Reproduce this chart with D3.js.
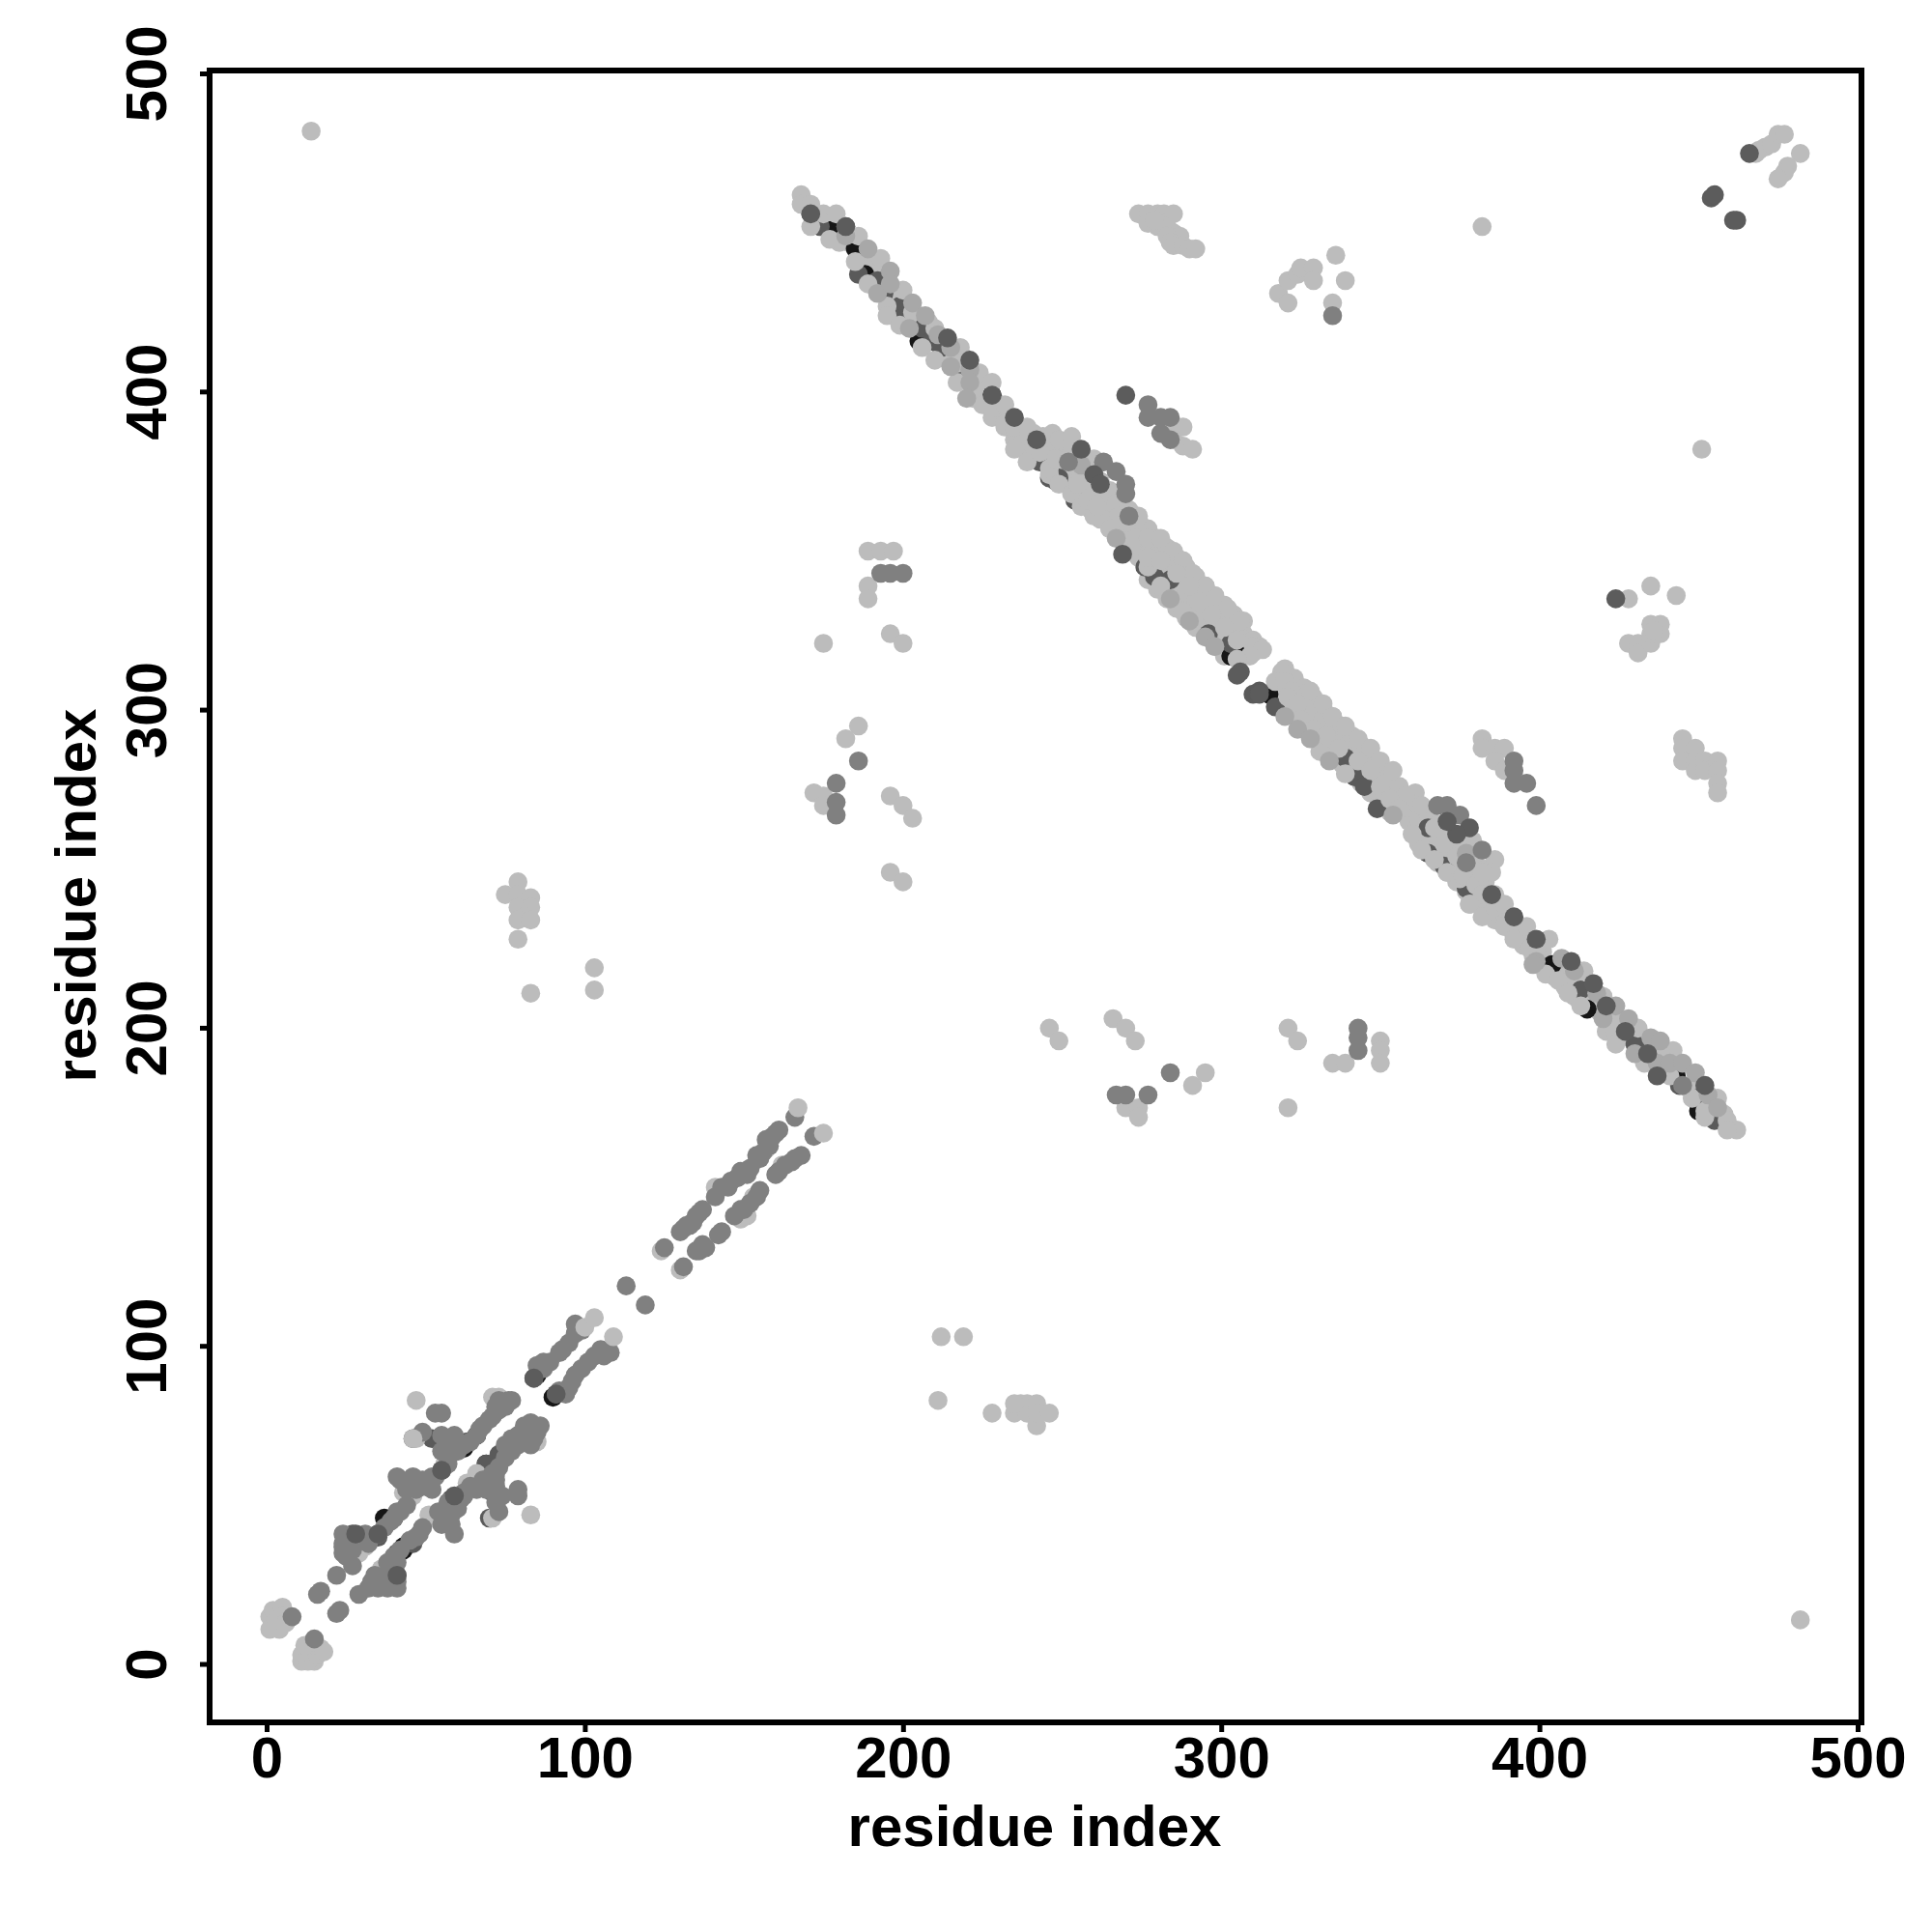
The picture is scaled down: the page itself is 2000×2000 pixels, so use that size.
<!DOCTYPE html>
<html><head><meta charset="utf-8">
<script src="https://cdnjs.cloudflare.com/ajax/libs/d3/7.8.5/d3.min.js"></script>
<style>html,body{margin:0;padding:0;background:#fff}svg{display:block}
text{font-family:"Liberation Sans",Arial,sans-serif;font-weight:700;fill:#000}</style>
</head><body><svg id="c" width="2000" height="2000"></svg>
<script>
const tickValues=[0,100,200,300,400,500];
const axisTitle="residue index";
const blackPts=[[178,452],[185,445],[188,437],[205,416],[228,399],[303,317],[307,317],[315,305],[415,206],[404,220],[443,185],[450,178],[450,174],[38,45],[43,37],[40,46],[37,46],[43,36],[66,72],[62,68],[69,63],[72,62],[85,91],[90,84]];
const darkUnderPts=[[171,456],[174,452],[182,452],[186,437],[192,435],[194,431],[199,427],[199,423],[206,420],[209,416],[212,414],[219,405],[246,373],[248,372],[249,373],[254,366],[243,378],[276,345],[279,342],[284,341],[296,324],[303,321],[310,305],[312,306],[342,279],[345,276],[339,285],[349,269],[365,263],[365,255],[370,251],[377,244],[413,212],[423,199],[430,195],[437,188],[444,182],[455,171],[317,301],[27,41],[35,40],[41,28],[41,35],[46,38],[52,71],[46,71],[55,61],[58,52],[61,69],[63,70],[69,63],[71,54],[73,66],[73,81],[84,90],[91,85],[70,46]];
const lightFillPts=[[244,378],[244,382],[244,386],[247,375],[247,379],[247,383],[247,387],[250,372],[250,376],[250,380],[250,384],[253,369],[253,373],[253,377],[253,381],[256,366],[256,370],[256,374],[256,378],[259,363],[259,367],[259,371],[259,375],[262,360],[262,364],[262,368],[262,372],[265,357],[265,361],[265,365],[265,369],[268,354],[268,358],[268,362],[268,366],[271,351],[271,355],[271,359],[271,363],[274,348],[274,352],[274,356],[274,360],[277,345],[277,349],[277,353],[277,357],[277,341],[280,342],[280,346],[280,350],[280,354],[280,338],[283,339],[283,343],[283,347],[283,351],[283,335],[286,336],[286,340],[286,344],[286,348],[286,332],[289,333],[289,337],[289,341],[289,345],[289,329],[292,330],[292,334],[292,338],[292,342],[292,326],[295,327],[295,331],[295,335],[295,339],[295,323],[298,324],[298,328],[298,332],[298,336],[298,320],[301,321],[301,325],[301,329],[301,333],[301,317],[304,318],[304,322],[304,326],[304,330],[307,320],[307,324],[307,328],[310,318],[310,322],[320,301],[320,305],[320,309],[320,313],[323,298],[323,302],[323,306],[323,310],[326,295],[326,299],[326,303],[326,307],[329,292],[329,296],[329,300],[329,304],[332,289],[332,293],[332,297],[332,301],[335,286],[335,290],[335,294],[335,298],[338,283],[338,287],[338,291],[338,295],[341,280],[341,284],[341,288],[341,292],[344,277],[344,281],[344,285],[344,289],[347,274],[347,278],[347,282],[347,286],[350,271],[350,275],[350,279],[350,283],[353,268],[353,272],[353,276],[353,280],[356,268],[356,272],[356,276],[359,265],[359,269],[359,273],[362,258],[362,262],[362,266],[362,270],[365,255],[365,259],[365,263],[365,267],[368,252],[368,256],[368,260],[368,264],[371,249],[371,253],[371,257],[371,261],[374,246],[374,250],[374,254],[374,258],[377,243],[377,247],[377,251],[377,255],[380,240],[380,244],[380,248],[380,252],[383,238],[383,242],[383,246],[383,250],[386,234],[386,238],[386,242],[389,232],[389,236],[392,229],[392,233],[395,226],[395,230],[398,223],[398,227],[226,396],[226,400],[229,393],[229,397],[232,389],[232,393],[235,385],[235,388],[238,382],[238,386],[241,379],[241,383],[241,387],[401,224],[401,220],[405,216],[405,220],[408,213],[408,217],[411,214],[411,210],[416,207],[416,211],[419,205],[422,202],[426,197],[429,199],[432,196],[435,191],[440,188],[447,181],[450,181],[454,177],[458,173],[173,455],[176,452],[180,447],[183,447],[187,443],[190,440],[187,438],[191,437],[194,436],[197,431],[198,425],[201,424],[201,428],[205,424],[207,418],[208,422],[212,416],[213,412],[216,411],[219,411],[220,408],[223,403],[224,400],[222,398]];
const lightPts=[[168,462],[168,459],[171,459],[171,452],[175,456],[179,456],[177,448],[186,449],[185,441],[193,442],[189,434],[200,432],[195,427],[195,424],[203,425],[199,421],[210,420],[206,414],[210,410],[218,414],[217,409],[217,403],[224,406],[228,403],[225,396],[228,392],[228,395],[232,396],[232,390],[235,382],[235,389],[239,389],[239,378],[243,381],[249,385],[253,386],[246,374],[260,379],[246,376],[248,379],[249,371],[253,368],[256,364],[260,361],[263,360],[255,371],[258,366],[261,364],[265,368],[267,365],[268,361],[265,357],[270,353],[273,354],[277,354],[281,354],[285,350],[288,347],[291,343],[295,339],[298,335],[302,332],[306,328],[312,320],[310,320],[313,319],[309,317],[305,316],[277,345],[281,339],[288,331],[277,348],[281,347],[286,343],[290,339],[293,334],[297,330],[301,326],[305,322],[274,361],[319,312],[317,309],[320,309],[322,306],[326,304],[329,302],[321,304],[324,302],[328,306],[332,302],[335,298],[339,295],[343,291],[347,288],[350,284],[354,281],[361,274],[358,273],[363,270],[331,287],[339,280],[325,297],[329,294],[333,292],[337,288],[343,284],[347,281],[350,276],[353,272],[356,269],[360,261],[363,256],[367,253],[371,249],[375,247],[378,239],[382,235],[386,238],[389,239],[389,232],[392,228],[396,232],[397,225],[379,259],[386,253],[385,249],[367,263],[370,263],[370,258],[374,254],[376,248],[380,245],[382,242],[382,249],[399,224],[403,228],[402,217],[406,215],[409,211],[414,218],[413,207],[420,210],[424,204],[421,199],[424,199],[424,195],[431,200],[433,189],[442,193],[438,193],[441,185],[448,178],[456,178],[452,172],[459,171],[462,168],[459,168],[452,174],[378,239],[14,482],[482,14],[451,382],[382,452],[468,475],[469,476],[471,477],[473,478],[475,481],[477,481],[482,475],[478,471],[477,469],[475,467],[274,456],[277,456],[280,456],[282,456],[285,456],[277,453],[280,452],[283,452],[279,454],[285,450],[287,449],[283,449],[284,447],[285,446],[288,446],[290,445],[292,445],[318,431],[321,435],[321,428],[324,437],[325,439],[329,439],[329,435],[336,443],[339,435],[335,428],[286,389],[288,389],[285,385],[288,383],[291,382],[189,350],[193,350],[197,350],[189,339],[189,335],[196,324],[200,321],[175,321],[186,295],[182,291],[172,274],[175,273],[175,270],[196,273],[200,270],[203,266],[196,249],[200,246],[75,242],[79,246],[79,242],[83,241],[79,238],[83,238],[81,235],[79,234],[83,234],[79,228],[83,211],[103,219],[103,212],[246,200],[249,196],[266,203],[270,200],[273,196],[270,175],[274,175],[274,172],[291,182],[295,186],[321,200],[324,196],[321,175],[335,189],[339,189],[350,196],[350,193],[350,189],[212,103],[219,103],[211,83],[228,79],[235,79],[237,82],[239,79],[239,82],[235,82],[242,82],[242,75],[242,79],[246,79],[428,335],[435,339],[443,336],[428,321],[431,321],[431,318],[435,321],[435,324],[435,327],[438,327],[438,324],[436,325],[382,291],[382,288],[386,288],[389,288],[386,284],[389,281],[445,291],[445,288],[445,284],[449,288],[449,284],[449,281],[452,284],[452,281],[456,284],[456,281],[456,277],[456,274],[1,15],[1,11],[2,17],[5,18],[5,15],[4,11],[3,14],[6,13],[11,1],[11,3],[17,5],[15,1],[13,1],[13,4],[16,3],[15,6],[18,4],[12,6],[29,35],[31,37],[27,34],[27,33],[43,54],[46,53],[56,63],[47,71],[47,83],[53,46],[51,47],[63,57],[66,60],[71,46],[83,47],[71,84],[73,84],[85,70],[124,130],[130,124],[141,150],[148,153],[151,141],[149,140],[153,147],[157,162],[162,157],[36,30]];
const palePts=[[182,449],[189,445],[196,438],[192,431],[196,434],[203,428],[202,420],[207,424],[211,418],[215,414],[215,408],[221,407],[221,403],[220,398],[256,377],[267,354],[284,335],[290,328],[295,323],[298,320],[320,298],[324,294],[328,291],[334,284],[354,267],[377,255],[399,221],[398,220],[407,222],[411,218],[418,211],[424,207],[428,203],[420,203],[435,197],[438,196],[430,192],[437,189],[441,189],[445,189],[449,186],[453,179],[456,175]];
const midPts=[[8,15],[15,8],[17,23],[16,22],[22,28],[24,41],[24,38],[24,35],[27,31],[31,41],[41,48],[40,46],[41,59],[47,58],[49,56],[46,56],[52,59],[55,67],[59,72],[55,72],[49,73],[53,79],[55,79],[67,74],[70,77],[76,83],[73,83],[23,17],[22,16],[29,22],[33,26],[35,24],[38,24],[41,24],[41,32],[48,41],[59,41],[55,48],[58,47],[61,52],[66,55],[72,60],[72,58],[73,48],[79,55],[79,53],[75,69],[77,71],[81,75],[83,76],[85,73],[83,69],[85,94],[87,95],[89,95],[92,98],[97,104],[97,107],[94,85],[95,87],[99,93],[103,97],[106,97],[113,119],[119,113],[125,131],[131,125],[131,137],[130,136],[133,138],[136,142],[135,141],[138,131],[136,130],[143,136],[142,135],[141,147],[143,150],[148,153],[149,155],[147,141],[149,143],[155,149],[154,160],[157,165],[160,167],[160,154],[165,158],[168,160],[166,172],[172,166],[252,378],[263,378],[267,375],[270,371],[270,368],[271,361],[371,270],[368,270],[375,267],[382,256],[377,252],[392,284],[392,281],[392,277],[396,277],[399,270],[186,284],[179,277],[179,271],[179,267],[193,343],[196,343],[200,343],[277,396],[277,392],[281,392],[284,392],[281,387],[284,385],[267,179],[270,179],[277,179],[284,186],[343,200],[343,197],[343,193],[335,424],[445,182]];
const midExtraPts=[[25,39],[24,37],[26,37],[27,36],[25,34],[32,38],[35,41],[37,43],[39,45],[42,48],[44,50],[42,58],[44,55],[47,55],[46,59],[49,58],[50,56],[52,55],[51,57],[53,59],[55,61],[57,65],[57,63],[60,67],[57,70],[60,70],[62,69],[64,70],[66,72],[68,75],[71,78],[73,80],[72,81],[75,81],[77,83],[32,24],[34,28],[36,27],[38,27],[39,29],[41,26],[38,32],[40,34],[42,36],[45,39],[47,40],[49,43],[58,44],[55,44],[56,46],[54,48],[57,51],[60,49],[62,54],[64,56],[62,53],[68,58],[70,57],[71,60],[73,62],[69,55],[72,51],[74,53],[72,56],[75,65],[77,67],[79,69],[81,72],[79,72],[84,71],[83,73],[86,75],[86,93],[87,93],[93,99],[95,101],[98,105],[99,105],[92,86],[96,89],[97,91],[101,95],[105,99],[108,98],[132,138],[134,139],[137,143],[145,150],[146,152],[151,154],[152,156],[155,159],[156,161],[158,163],[159,166],[161,168],[135,130],[137,132],[150,143],[152,145],[154,147],[161,155],[163,157],[166,159]];
const darkPts=[[171,456],[182,452],[214,417],[221,410],[228,399],[235,392],[242,385],[256,382],[260,374],[262,371],[269,349],[270,399],[306,312],[305,311],[312,305],[378,263],[374,261],[371,265],[385,242],[392,235],[399,228],[410,221],[417,214],[421,207],[427,199],[434,192],[437,185],[452,182],[424,335],[454,461],[455,462],[462,454],[461,454],[466,475],[28,41],[35,41],[41,28],[55,61],[59,53],[84,90],[91,85]];
const topLightPts=[[100,106],[103,109],[109,103],[167,175],[175,167],[46,71]];

const svg=d3.select("#c");
const x=d3.scaleLinear().domain([0,500]).range([276,1923]);
const y=d3.scaleLinear().domain([0,500]).range([1723,76.5]);
const groups=[[lightFillPts,"#bcbcbc"],[blackPts,"#161616"],[darkUnderPts,"#5a5a5a"],[lightPts,"#bcbcbc"],[palePts,"#a8a8a8"],[midExtraPts,"#808080"],[midPts,"#808080"],[darkPts,"#5c5c5c"],[topLightPts,"#bcbcbc"]];
groups.forEach(([pts,col])=>{
  svg.append("g").selectAll("circle").data(pts).join("circle")
    .attr("cx",d=>x(d[0])).attr("cy",d=>y(d[1])).attr("r",9.8).attr("fill",col);
});
svg.append("rect").attr("x",217).attr("y",73).attr("width",1710).attr("height",1710)
  .attr("fill","none").attr("stroke","#000").attr("stroke-width",6);
const ax=svg.append("g").attr("transform","translate(0,1783)")
  .call(d3.axisBottom(x).tickValues(tickValues).tickSize(10).tickPadding(4).tickFormat(d3.format("d")));
const ay=svg.append("g").attr("transform","translate(217,0)")
  .call(d3.axisLeft(y).tickValues(tickValues).tickSize(10).tickFormat(d3.format("d")));
[ax,ay].forEach(a=>{a.select(".domain").remove();a.selectAll("line").attr("stroke","#000").attr("stroke-width",5);
  a.selectAll("text").style("font-size","60px").attr("fill","#000");});
ay.selectAll("text").attr("text-anchor","middle").attr("dy",0).attr("x",0)
  .attr("transform",d=>`translate(-45,${y(d)}) rotate(-90)`).attr("y",0);
ay.selectAll(".tick").attr("transform","translate(0,0)");
ay.selectAll(".tick line").attr("y1",d=>y(d)).attr("y2",d=>y(d));
svg.append("text").attr("x",1071).attr("y",1911).attr("text-anchor","middle").style("font-size","60px").text(axisTitle);
svg.append("text").attr("transform","translate(99,927) rotate(-90)").attr("text-anchor","middle").style("font-size","60px").text(axisTitle);
</script></body></html>
